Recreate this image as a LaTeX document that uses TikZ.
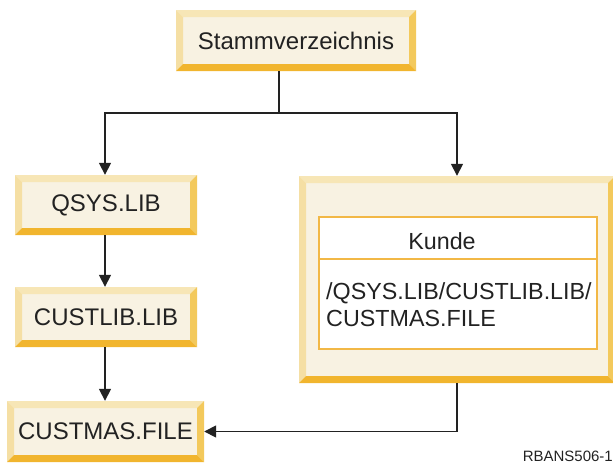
\documentclass[tikz,border=0pt]{standalone}
\usepackage{fontspec}
\setmainfont{Liberation Sans}
\usetikzlibrary{arrows.meta}

\definecolor{bevface}{HTML}{F8F2E2}
\definecolor{bevtop}{HTML}{F7E6B6}
\definecolor{bevleft}{HTML}{F5DFA4}
\definecolor{bevright}{HTML}{F3C95C}
\definecolor{bevbottom}{HTML}{F1B52E}
\definecolor{frameline}{HTML}{F2B846}
\definecolor{ink}{HTML}{222222}

\tikzset{
  bevelbox/.style={
    rectangle, fill=bevface, inner sep=0pt, text=ink,
    font=\fontsize{24}{28}\selectfont,
    path picture={
      \def\bw{7pt}
      \coordinate (nw) at (path picture bounding box.north west);
      \coordinate (ne) at (path picture bounding box.north east);
      \coordinate (sw) at (path picture bounding box.south west);
      \coordinate (se) at (path picture bounding box.south east);
      \fill[bevtop] (nw) -- (ne) -- ([xshift=-\bw,yshift=-\bw]ne) -- ([xshift=\bw,yshift=-\bw]nw) -- cycle;
      \fill[bevleft] (nw) -- (sw) -- ([xshift=\bw,yshift=\bw]sw) -- ([xshift=\bw,yshift=-\bw]nw) -- cycle;
      \fill[bevright] (ne) -- (se) -- ([xshift=-\bw,yshift=\bw]se) -- ([xshift=-\bw,yshift=-\bw]ne) -- cycle;
      \fill[bevbottom] (sw) -- (se) -- ([xshift=-\bw,yshift=\bw]se) -- ([xshift=\bw,yshift=\bw]sw) -- cycle;
    }},
  link/.style={draw=ink, line width=1.6pt},
  arrowlink/.style={link, -{Triangle[length=12pt,width=12pt]}},
  innertext/.style={text=ink, font=\fontsize{23.3}{27}\selectfont, inner sep=0pt}
}

\begin{document}
\begin{tikzpicture}[x=1pt,y=-1pt]
  \useasboundingbox (0,0) rectangle (613,464);

  % directory boxes
  \node[bevelbox, minimum width=240pt, minimum height=61pt] (root) at (296,40.5) {Stammverzeichnis};
  \node[bevelbox, minimum width=182pt, minimum height=60pt] (qsys) at (106,205) {QSYS.LIB};
  \node[bevelbox, minimum width=182pt, minimum height=60pt] (custlib) at (106,317) {CUSTLIB.LIB};
  \node[bevelbox, minimum width=197pt, minimum height=61pt] (custmas) at (105.5,431.5) {CUSTMAS.FILE};
  \node[bevelbox, minimum width=316pt, minimum height=207pt] (kunde) at (457,279.5) {};

  % inner white panel of the Kunde box
  \node[draw=frameline, line width=1.2pt, fill=white, minimum width=278pt, minimum height=132pt, inner sep=0pt] (panel) at (458,283) {};
  \draw[frameline, line width=1.2pt] (panel.west |- 0,259) coordinate (divl) -- (panel.east |- divl);
  \node[innertext] (kname) at (442,241) {Kunde};
  \node[innertext, anchor=west, align=left, font=\fontsize{23.3}{27.5}\selectfont] (kpath) at (326,304.5) {/QSYS.LIB/CUSTLIB.LIB/\\CUSTMAS.FILE};

  % connectors
  \coordinate (stem) at (279,113);
  \draw[link] (stem |- root.south) -- (stem);
  \draw[arrowlink] (stem) -| (105,0 |- qsys.north);
  \draw[arrowlink] (stem) -| (kunde.north);
  \draw[arrowlink] (qsys.south -| 105,0) -- (custlib.north -| 105,0);
  \draw[arrowlink] (custlib.south -| 105,0) -- (custmas.north -| 105,0);
  \draw[arrowlink] (kunde.south) |- (custmas.east);

  % figure label
  \node[anchor=south east, inner sep=0pt, text=ink, font=\fontsize{15}{18}\selectfont] (figid) at (613,462) {RBANS506-1};
\end{tikzpicture}
\end{document}
